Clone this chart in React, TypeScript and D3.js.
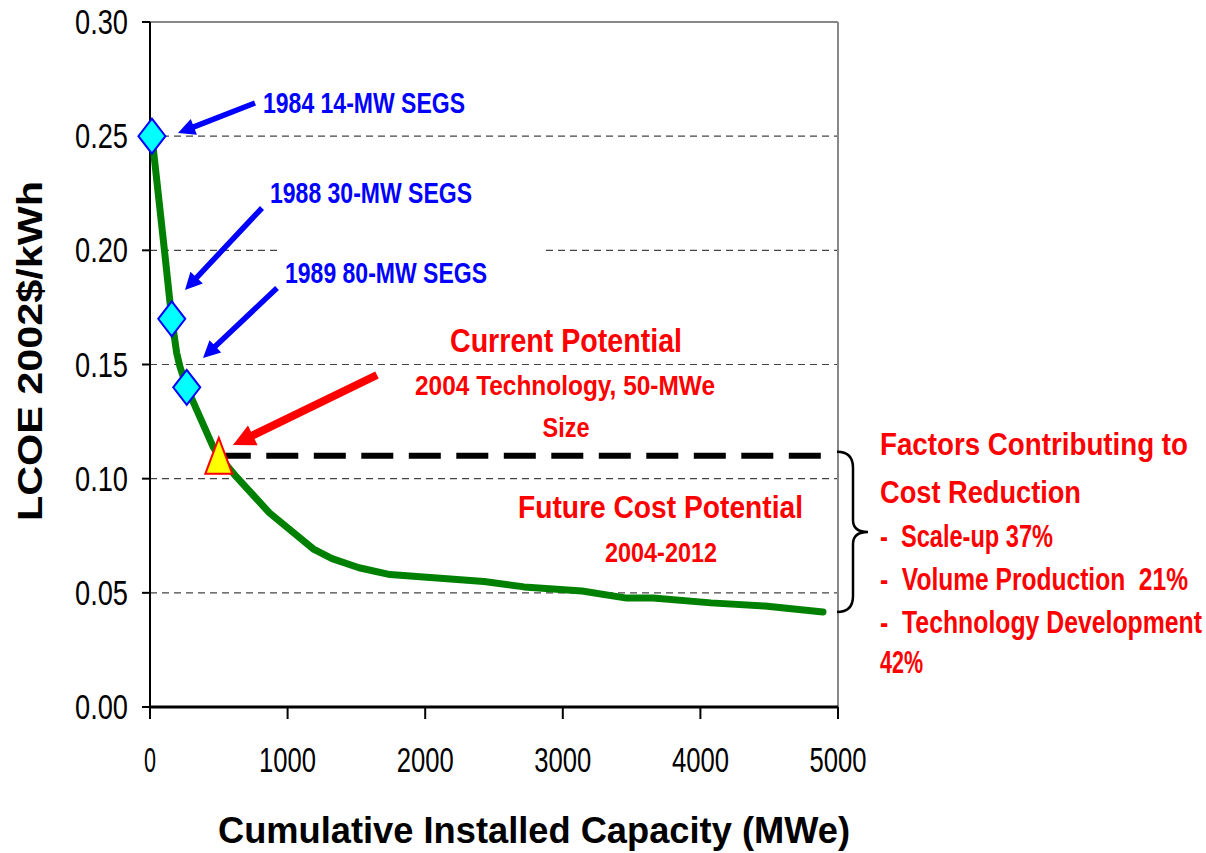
import React from "react";
import * as d3 from "d3";

// ---- data ----
const capacityMW = [14, 105, 158, 194, 218, 267, 458, 500, 625, 868, 1192, 1323, 1519, 1744, 2427, 2718, 3140, 3464, 3656, 4077, 4469, 4891];
const lcoe = [0.25, 0.2, 0.17, 0.155, 0.149, 0.14, 0.114, 0.11, 0.101, 0.085, 0.069, 0.065, 0.061, 0.058, 0.055, 0.0526, 0.0508, 0.0477, 0.0477, 0.0456, 0.0442, 0.0416];
const segsCapacity = [14, 158, 267];
const segsLcoe = [0.25, 0.17, 0.14];
const segsLabels = ["1984 14-MW SEGS", "1988 30-MW SEGS", "1989 80-MW SEGS"];
const currentCapacity = [500];
const currentLcoe = [0.11];
const potentialRange = [500, 4900];
const potentialLevel = 0.11;
const braceRange = [0.11, 0.0416];
const xTicks = [0, 1000, 2000, 3000, 4000, 5000];
const yTicks = [0, 0.05, 0.1, 0.15, 0.2, 0.25, 0.3];
const factorLines = ["Factors Contributing to", "Cost Reduction", "-  Scale-up 37%", "-  Volume Production  21%", "-  Technology Development", "42%"];

const FONT = "'Liberation Sans', Arial, Helvetica, sans-serif";

function T(props: any) {
  const { x, y, len, size, fill = "#000", bold = true, anchor = "start", transform, children } = props;
  return (
    <text
      x={x}
      y={y}
      transform={transform}
      fontFamily={FONT}
      fontSize={size}
      fontWeight={bold ? "bold" : "normal"}
      fill={fill}
      textAnchor={anchor}
      textLength={len}
      lengthAdjust="spacingAndGlyphs"
      style={{ whiteSpace: "pre" }}
    >
      {children}
    </text>
  );
}

function arrow(x1: number, y1: number, x2: number, y2: number, w: number, hl: number, hw: number) {
  const dx = x2 - x1, dy = y2 - y1;
  const L = Math.hypot(dx, dy);
  const ux = dx / L, uy = dy / L;
  const px = -uy, py = ux;
  const bx = x2 - ux * hl, by = y2 - uy * hl;
  const pts = [
    [x1 + px * w / 2, y1 + py * w / 2],
    [bx + px * w / 2, by + py * w / 2],
    [bx + px * hw / 2, by + py * hw / 2],
    [x2, y2],
    [bx - px * hw / 2, by - py * hw / 2],
    [bx - px * w / 2, by - py * w / 2],
    [x1 - px * w / 2, y1 - py * w / 2],
  ];
  return "M" + pts.map((p) => p.join(",")).join("L") + "Z";
}

export default function App() {
  const W = 1206, H = 853;
  const x = d3.scaleLinear().domain([0, 5000]).range([150, 838]);
  const y = d3.scaleLinear().domain([0, 0.3]).range([707, 22]);
  const pts: [number, number][] = capacityMW.map((c, i) => [c, lcoe[i]]);
  const line = d3.line<[number, number]>().x((d) => x(d[0])).y((d) => y(d[1]));

  const bTop = y(braceRange[0]) - 4, bBot = y(braceRange[1]);
  const bMid = (bTop + bBot) / 2;
  const bx0 = 837, bx1 = 853, bx2 = 868;
  const brace = `M${bx0},${bTop} Q${bx1},${bTop} ${bx1},${bTop + 16} L${bx1},${bMid - 12} Q${bx1},${bMid} ${bx2},${bMid} Q${bx1},${bMid} ${bx1},${bMid + 12} L${bx1},${bBot - 16} Q${bx1},${bBot} ${bx0},${bBot}`;

  const factorY = [455, 503, 547, 590, 633, 673];
  const factorLen = [308, 201, 173, 308, 322, 43];

  return (
    <svg width={W} height={H} style={{ position: "absolute", left: 0, top: 0, display: "block", background: "#fff" }}>
      {/* gridlines */}
      {yTicks.filter((t) => t > 0 && t < 0.3).map((t) => (
        <line key={t} x1={x(0)} x2={x(5000)} y1={y(t)} y2={y(t)} stroke="#444" strokeWidth={1.2} strokeDasharray="7 5" />
      ))}
      {/* plot border top/right */}
      <line x1={x(0)} x2={x(5000)} y1={y(0.3)} y2={y(0.3)} stroke="#888" strokeWidth={2} />
      <line x1={x(5000)} x2={x(5000)} y1={y(0.3)} y2={y(0)} stroke="#888" strokeWidth={2} />

      {/* white label box hiding part of grid */}
      <rect x={280} y={238} width={262} height={55} fill="#fff" />

      {/* axes */}
      <line x1={x(0)} x2={x(0)} y1={y(0.3)} y2={y(0) + 1} stroke="#000" strokeWidth={2} />
      <line x1={x(0) - 1} x2={x(5000)} y1={y(0)} y2={y(0)} stroke="#000" strokeWidth={3} />
      {yTicks.map((t) => (
        <g key={"yt" + t}>
          <line x1={x(0) - 8} x2={x(0)} y1={y(t)} y2={y(t)} stroke="#000" strokeWidth={2} />
          <T x={128} y={y(t) + 12} size={35} bold={false} anchor="end" len={53}>
            {t.toFixed(2)}
          </T>
        </g>
      ))}
      {xTicks.map((t) => (
        <g key={"xt" + t}>
          <line x1={x(t)} x2={x(t)} y1={y(0)} y2={y(0) + 12} stroke="#000" strokeWidth={2} />
          <T x={x(t)} y={772} size={35} bold={false} anchor="middle" len={t === 0 ? 12 : 57}>
            {String(t)}
          </T>
        </g>
      ))}

      {/* axis titles */}
      <T x={534} y={843} size={36} anchor="middle" len={632}>
        Cumulative Installed Capacity (MWe)
      </T>
      <T x={0} y={0} transform="translate(42,351) rotate(-90)" size={35} anchor="middle" len={340}>
        LCOE 2002$/kWh
      </T>

      {/* cost curve */}
      <path d={line(pts) || ""} fill="none" stroke="#008000" strokeWidth={7} strokeLinejoin="round" strokeLinecap="round" />

      {/* future potential dashed line */}
      <line
        x1={x(potentialRange[0])}
        x2={x(potentialRange[1])}
        y1={y(potentialLevel)}
        y2={y(potentialLevel)}
        stroke="#000"
        strokeWidth={6}
        strokeDasharray="32 15.5"
      />

      {/* SEGS markers */}
      {segsCapacity.map((c, i) => {
        const cx = x(c), cy = y(segsLcoe[i]);
        return (
          <path
            key={"d" + i}
            d={`M${cx},${cy - 17.5}L${cx + 13.5},${cy}L${cx},${cy + 17.5}L${cx - 13.5},${cy}Z`}
            fill="#00FFFF"
            stroke="#0000FF"
            strokeWidth={2}
          />
        );
      })}
      {currentCapacity.map((c, i) => {
        const cx = x(c), cy = y(currentLcoe[i]);
        return (
          <path
            key={"t" + i}
            d={`M${cx},${cy - 18}L${cx + 13.5},${cy + 18}L${cx - 13.5},${cy + 18}Z`}
            fill="#FFFF00"
            stroke="#FF0000"
            strokeWidth={2}
          />
        );
      })}

      {/* blue annotations */}
      <path d={arrow(255, 103, 178, 133, 5.5, 17, 17)} fill="#0000FF" />
      <path d={arrow(262, 208, 185, 290, 5.5, 17, 17)} fill="#0000FF" />
      <path d={arrow(277, 288, 203, 358, 5.5, 17, 17)} fill="#0000FF" />
      <T x={263} y={113} size={29} fill="#0000FF" len={202}>{segsLabels[0]}</T>
      <T x={270} y={203} size={29} fill="#0000FF" len={202}>{segsLabels[1]}</T>
      <T x={285} y={283} size={29} fill="#0000FF" len={202}>{segsLabels[2]}</T>

      {/* red annotations */}
      <path d={arrow(377, 375, 233, 445, 8, 22, 22)} fill="#FF0000" />
      <T x={450} y={352} size={34} fill="#FF0000" len={232}>Current Potential</T>
      <T x={415} y={395} size={28} fill="#FF0000" len={300}>2004 Technology, 50-MWe</T>
      <T x={566} y={437} size={28} fill="#FF0000" anchor="middle" len={47}>Size</T>
      <T x={518} y={518} size={32} fill="#FF0000" len={285}>Future Cost Potential</T>
      <T x={661} y={562} size={28} fill="#FF0000" anchor="middle" len={112}>2004-2012</T>

      {/* brace */}
      <path d={brace} fill="none" stroke="#000" strokeWidth={2.5} />

      {factorLines.map((s, i) => (
        <T key={"f" + i} x={880} y={factorY[i]} size={31} fill="#FF0000" len={factorLen[i]}>
          {s}
        </T>
      ))}
    </svg>
  );
}
